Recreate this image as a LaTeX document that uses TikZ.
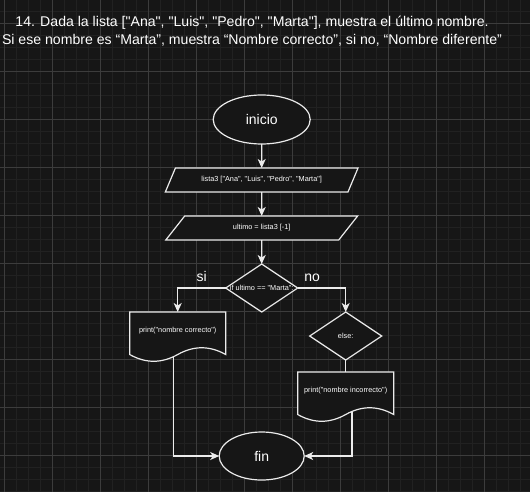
\documentclass[tikz,border=0pt]{standalone}
\usepackage{fontspec}
\setmainfont{Liberation Sans}[Ligatures=TeXOff]
\usetikzlibrary{arrows.meta,positioning,shapes.geometric}
\definecolor{canvas}{RGB}{22,22,22}
\definecolor{gridminor}{RGB}{33,33,33}
\definecolor{gridmajor}{RGB}{60,60,60}
\definecolor{strokecol}{RGB}{235,235,235}
\newcommand{\tinytext}{\fontsize{7.3}{8.8}\selectfont}
\newcommand{\bigtext}{\fontsize{14}{16}\selectfont}
\tikzset{
    flowstart/.style={ellipse,draw=strokecol,fill=canvas,line width=1.2pt,text=white,font=\bigtext,minimum width=97pt,minimum height=49pt,inner sep=0pt,outer sep=0pt},
    flowio/.style={trapezium,trapezium left angle=44,trapezium right angle=136,trapezium stretches=true,draw=strokecol,fill=canvas,line width=1.2pt,text=white,font=\tinytext,minimum width=193pt,minimum height=24pt,inner sep=0pt,outer sep=0pt},
    flowdecision/.style={diamond,draw=strokecol,fill=canvas,line width=1.2pt,minimum width=72pt,minimum height=48pt,inner sep=0pt,outer sep=0pt},
    flowdoc/.style={rectangle,minimum width=96pt,minimum height=50pt,inner sep=0pt,outer sep=0pt,
        append after command={\pgfextra{
            \draw[strokecol,fill=canvas,line width=1.2pt] (\tikzlastnode.north west) -- (\tikzlastnode.north east)
                -- ([yshift=7.5pt]\tikzlastnode.south east)
                .. controls +(-16pt,9pt) and +(16pt,9pt) .. ([yshift=7.5pt]\tikzlastnode.south)
                .. controls +(-16pt,-9pt) and +(16pt,-9pt) .. ([yshift=7.5pt]\tikzlastnode.south west) -- cycle;}}},
    flowtext/.style={text=white,font=\tinytext,inner sep=0pt},
    flowline/.style={-{Stealth[length=9pt,width=8pt,inset=2.5pt]},draw=strokecol,line width=1.2pt},
    flowplain/.style={draw=strokecol,line width=1.2pt},
    branchlabel/.style={text=white,font=\bigtext}
}
\begin{document}
\begin{tikzpicture}[x=1pt,y=1pt]
    \fill[canvas] (0,0) rectangle (530,-492);
    \useasboundingbox (0,0) rectangle (530,-492);
    % grid
    \begin{scope}
        \clip (0,0) rectangle (530,-492);
        \draw[gridminor,line width=0.6pt,shift={(4,-23.3)},step=12pt] (-12,36) grid (540,-480);
        \draw[gridmajor,line width=0.6pt,shift={(4,-23.3)},step=48pt] (-48,48) grid (576,-480);
    \end{scope}
    \node[text=white,align=center,font=\fontsize{14.1}{17.7}\selectfont] (title) at (252,-31)
        {14. Dada la lista ["Ana", "Luis", "Pedro", "Marta"], muestra el último nombre.\\Si ese nombre es “Marta”, muestra “Nombre correcto”, si no, “Nombre diferente”};
    \node[flowstart] (start) at (261.7,-119.5) {inicio};
    \node[flowio,below=24pt of start] (lista) {lista3 ["Ana", "Luis", "Pedro", "Marta"]};
    \node[flowio,below=24pt of lista] (ultimo) {ultimo = lista3 [-1]};
    \node[flowdecision,below=24pt of ultimo,label={[flowtext]center:{if ultimo == "Marta":}}] (cond) {};
    \node[flowdoc,below=0pt of cond.south,xshift=-84pt,label={[flowtext,yshift=6.3pt]center:{print("nombre correcto")}}] (printyes) {};
    \node[flowdecision,below=0pt of cond.south,xshift=84pt,label={[flowtext]center:{else:}}] (elsebox) {};
    \node[flowdoc,below=12pt of elsebox,label={[flowtext,yshift=6.3pt]center:{print("nombre incorrecto")}}] (printno) {};
    \node[flowstart,minimum width=85pt,minimum height=48pt,below=120pt of cond] (fin) {fin};
    \draw[flowline] (start) -- (lista);
    \draw[flowline] (lista) -- (ultimo);
    \draw[flowline] (ultimo) -- (cond);
    \draw[flowline] (cond.west) -| node[branchlabel,pos=0.25,above=2.5pt]{si} (printyes.north);
    \draw[flowline] (cond.east) -| node[branchlabel,pos=0.15,above=2.5pt]{no} (elsebox.north);
    \draw[flowplain] (elsebox) -- (printno);
    \draw[flowline] ([xshift=-4.6pt,yshift=5.2pt]printyes.south) |- (fin.west);
    \draw[flowline] ([xshift=6.3pt,yshift=10.6pt]printno.south) |- (fin.east);
\end{tikzpicture}
\end{document}
